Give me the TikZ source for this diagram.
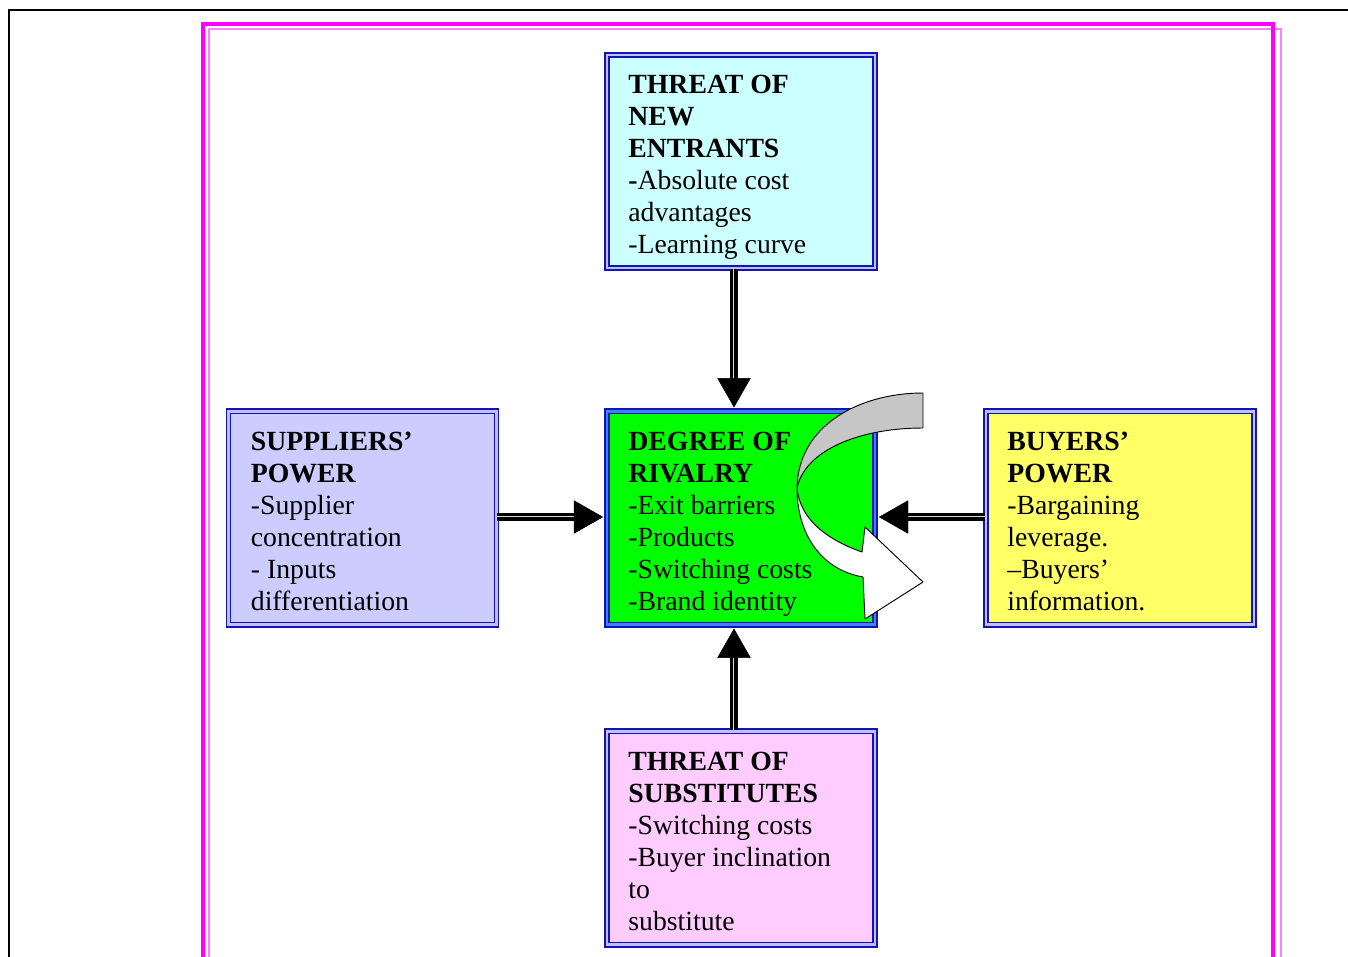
\documentclass[tikz,border=0pt]{standalone}
\usepackage{fontspec}
\setmainfont{Liberation Serif}
\usetikzlibrary{arrows.meta,calc}
\definecolor{boxline}{RGB}{20,20,180}
\definecolor{cyanfill}{RGB}{204,255,255}
\definecolor{lavfill}{RGB}{204,204,255}
\definecolor{yelfill}{RGB}{255,255,102}
\definecolor{pinkfill}{RGB}{255,204,255}
\definecolor{greenfill}{RGB}{0,255,0}
\definecolor{midblue}{RGB}{60,130,255}
\definecolor{framemag}{RGB}{255,0,255}
\tikzset{
  fbox/.style={draw=boxline, line width=1.3pt, double=#1, double distance=1.8pt,
    minimum width=201pt, minimum height=160pt, inner sep=0pt},
  ftext/.style={anchor=base west, inner sep=0pt, font=\fontsize{20.8}{24}\selectfont},
  shaft/.style={draw=black, line width=2.6pt, double=gray!30, double distance=1.1pt, shorten >=20pt},
  tip/.style={draw=black, line width=0.3pt, -{Triangle[length=22pt,width=25pt]}},
  ribbon/.style={draw=black, line width=0.7pt, line join=round}
}
\newcommand{\boxtxt}[1]{\parbox[t]{190pt}{\raggedright #1}}
\begin{document}
\begin{tikzpicture}[x=0.75pt,y=-0.75pt]
\useasboundingbox (0,0) rectangle (1348,956);
\clip (0,0) rectangle (1348,956);
% outer frames
\draw[black, line width=1.6pt] (9,1000) -- (9,10) -- (1400,10);
\draw[framemag!50, line width=1.8pt] (209,1000) -- (209,29) -- (1281,29) -- (1281,1000);
\draw[framemag, line width=3.6pt] (203,1000) -- (203,24) -- (1273,24) -- (1273,1000);
% boxes
\node[fbox=blue!25, fill=cyanfill] (top) at (741,161.5) {};
\node[fbox=midblue, fill=greenfill] (mid) at (741,518) {};
\node[fbox=blue!25, fill=lavfill] (left) at (362.5,518) {};
\node[fbox=blue!25, fill=yelfill] (right) at (1120,518) {};
\node[fbox=blue!25, fill=pinkfill] (bot) at (741,838) {};
% texts
\node[ftext] (topt) at ($(top.north west)+(22,40)$) {\boxtxt{\textbf{THREAT OF}\\\textbf{NEW}\\\textbf{ENTRANTS}\\\textbf{-}Absolute cost\\advantages\\-Learning curve}};
\node[ftext] (midt) at ($(mid.north west)+(22,40)$) {\boxtxt{\textbf{DEGREE OF}\\\textbf{RIVALRY}\\-Exit barriers\\-Products\\-Switching costs\\-Brand identity}};
\node[ftext] (leftt) at ($(left.north west)+(23,40)$) {\boxtxt{\textbf{SUPPLIERS’}\\\textbf{POWER}\\-Supplier\\concentration\\- Inputs\\differentiation}};
\node[ftext] (rightt) at ($(right.north west)+(22,40)$) {\boxtxt{\textbf{BUYERS’}\\\textbf{POWER}\\-Bargaining\\leverage.\\–Buyers’\\information.}};
\node[ftext] (bott) at ($(bot.north west)+(22,40)$) {\boxtxt{\textbf{THREAT OF}\\\textbf{SUBSTITUTES}\\-Switching costs\\-Buyer inclination\\to\\substitute}};
% connectors
\draw[shaft] ($(top.south)+(-7,0)$) -- ($(mid.north)+(-7,0)$);
\draw[tip] ($(top.south)+(-7,0)$) -- ($(mid.north)+(-7,-3)$);
\draw[shaft] ($(left.east)+(0,-1)$) -- ($(mid.west)+(0,-1)$);
\draw[tip] ($(left.east)+(0,-1)$) -- ($(mid.west)+(-3,-1)$);
\draw[shaft] ($(right.west)+(0,-1)$) -- ($(mid.east)+(0,-1)$);
\draw[tip] ($(right.west)+(0,-1)$) -- ($(mid.east)+(3,-1)$);
\draw[shaft] ($(bot.north)+(-7,0)$) -- ($(mid.south)+(-7,0)$);
\draw[tip] ($(bot.north)+(-7,0)$) -- ($(mid.south)+(-7,3)$);
% curved ribbon arrow
\draw[ribbon, fill=gray!45] (923,393) .. controls (860,393) and (798,425) .. (797,488)
  .. controls (805,450) and (860,428) .. (923,428) -- cycle;
\draw[ribbon, fill=white] (797,488) .. controls (797,535) and (822,570) .. (863,577)
  -- (865,619) -- (923,582) -- (865,527) -- (862,552)
  .. controls (828,540) and (800,520) .. (797,488) -- cycle;
\end{tikzpicture}
\end{document}
